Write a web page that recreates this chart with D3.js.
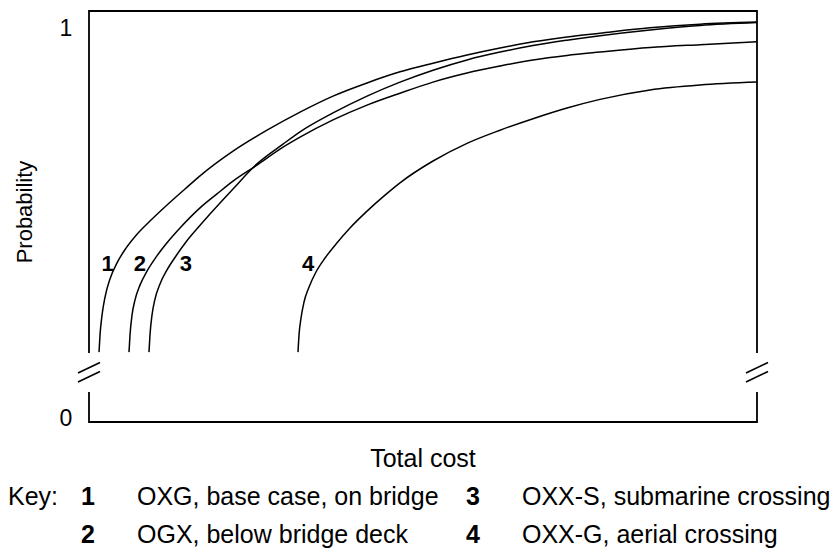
<!DOCTYPE html>
<html>
<head>
<meta charset="utf-8">
<script src="https://cdn.jsdelivr.net/npm/d3@7"></script>
<style>
  body { margin: 0; background: #fff; }
  text { font-family: "Liberation Sans", Arial, Helvetica, sans-serif; fill: #000; }
</style>
</head>
<body>
<svg id="chart" width="835" height="553"></svg>
<script>
// cumulative probability vs total cost (cost in 0..100 units)
var curve1 = [[1.5,.170],[1.65,.212],[1.95,.260],[2.4,.304],[3.14,.348],[4.19,.387],[5.54,.423],
    [7.19,.457],[9.13,.489],[11.68,.528],[14.37,.567],[16.62,.599],[21.56,.659],[26.65,.710],
    [31.59,.754],[36.53,.793],[41.62,.825],[46.56,.852],[51.5,.873],[56.59,.893],[61.53,.910],
    [66.47,.925],[71.56,.937],[76.5,.946],[83.98,.959],[91.47,.968],[100,.973]];
var curve2 = [[5.99,.170],[6.14,.212],[6.44,.260],[6.89,.297],[7.63,.333],[8.68,.367],[10.03,.401],
    [11.68,.436],[13.62,.472],[16.62,.521],[19.16,.555],[21.56,.586],[25.15,.625],[28.59,.664],
    [31.59,.693],[36.53,.735],[41.62,.771],[46.56,.800],[51.5,.827],[56.59,.849],[61.53,.866],
    [66.47,.881],[71.56,.892],[76.5,.900],[83.98,.911],[91.47,.918],[100,.925]];
var curve3 = [[8.98,.170],[9.13,.212],[9.43,.260],[9.88,.299],[10.63,.336],[11.68,.370],[13.02,.404],
    [14.52,.438],[16.17,.470],[18.11,.506],[21.56,.567],[25.15,.628],[29.04,.676],[31.59,.706],
    [36.53,.752],[41.62,.793],[46.56,.827],[51.5,.856],[56.59,.881],[61.53,.900],[66.47,.916],
    [71.56,.929],[76.5,.940],[83.98,.954],[91.47,.965],[100,.972]];
var curve4 = [[31.29,.170],[31.44,.212],[31.74,.253],[32.19,.292],[32.93,.328],[33.98,.365],
    [35.33,.399],[36.98,.433],[39.07,.472],[41.62,.513],[44.31,.552],[46.56,.582],[51.5,.635],
    [56.59,.678],[61.53,.710],[66.47,.738],[71.56,.764],[76.5,.785],[83.98,.808],[91.47,.820],[100,.827]];

var curveIds = ["1", "2", "3", "4"];
var labelCost = [2.8, 7.6, 14.5, 32.8];
var labelProb = 0.387;
var keyNames = ["OXG, base case, on bridge", "OGX, below bridge deck",
                "OXX-S, submarine crossing", "OXX-G, aerial crossing"];
var yTicks = [0, 1];
var axisBreak = [0.073, 0.168];   // probability band cut out of the vertical axis

window.addEventListener( "load", makeChart );
function makeChart() {
    var svg = d3.select( "#chart" );
    var scX = d3.scaleLinear().domain( [0, 100] ).range( [89, 757] );
    var scY = d3.scaleLinear().domain( [0, 1] ).range( [422, 11] );
    var frame = svg.append( "g" ).attr( "stroke", "#000" ).attr( "stroke-width", 1.8 )
        .attr( "fill", "none" );

    // frame with broken sides
    var [x0, x1] = scX.range(), [y0, y1] = scY.range();
    var bLo = scY( axisBreak[0] ), bHi = scY( axisBreak[1] );
    frame.append( "path" ).attr( "d", "M" + x0 + "," + bHi + "V" + y1 + "H" + x1 + "V" + bHi );
    frame.append( "path" ).attr( "d", "M" + x0 + "," + bLo + "V" + y0 + "H" + x1 + "V" + bLo );

    var bMid = (bLo + bHi) / 2;
    [x0, x1].forEach( function( x ) {
        [-4.5, 4.5].forEach( function( o ) {
            frame.append( "line" ).attr( "stroke-width", 1.6 )
                .attr( "x1", x - 11 ).attr( "y1", bMid + o + 5 )
                .attr( "x2", x + 11 ).attr( "y2", bMid + o - 5.5 );
        } );
    } );

    // tick labels 0 and 1
    svg.selectAll( "text.tick" ).data( yTicks ).enter().append( "text" )
        .attr( "class", "tick" )
        .attr( "x", x0 - 23 ).attr( "y", d => d ? scY( d ) + 25 : scY( d ) + 4 )
        .attr( "text-anchor", "middle" ).attr( "font-size", 23 )
        .text( d => d );

    // curves
    var line = d3.line().x( d => scX( d[0] ) ).y( d => scY( d[1] ) )
        .curve( d3.curveMonotoneX );
    svg.append( "g" ).selectAll( "path" ).data( [curve1, curve2, curve3, curve4] ).enter()
        .append( "path" ).attr( "d", line )
        .attr( "fill", "none" ).attr( "stroke", "#000" ).attr( "stroke-width", 1.5 );

    svg.append( "g" ).selectAll( "text" ).data( curveIds ).enter().append( "text" )
        .attr( "x", (d, i) => scX( labelCost[i] ) ).attr( "y", scY( labelProb ) + 8 )
        .attr( "text-anchor", "middle" ).attr( "font-size", 22 ).attr( "font-weight", "bold" )
        .text( d => d );

    // axis titles
    svg.append( "text" ).attr( "transform", "translate(32,212) rotate(-90)" )
        .attr( "text-anchor", "middle" ).attr( "font-size", 22 ).text( "Probability" );
    svg.append( "text" ).attr( "x", 423 ).attr( "y", 467 )
        .attr( "text-anchor", "middle" ).attr( "font-size", 25 ).text( "Total cost" );

    // key
    var key = svg.append( "g" ).attr( "font-size", 25 );
    key.append( "text" ).attr( "x", 8 ).attr( "y", 505 ).text( "Key:" );
    var rows = key.selectAll( "g" ).data( curveIds ).enter().append( "g" )
        .attr( "transform", (d, i) => "translate(" + (i < 2 ? 0 : 385) + "," + (i % 2 ? 543 : 505) + ")" );
    rows.append( "text" ).attr( "x", 88 ).attr( "text-anchor", "middle" )
        .attr( "font-weight", "bold" ).text( d => d );
    rows.append( "text" ).attr( "x", 137 ).text( (d, i) => keyNames[i] );
}
</script>
</body>
</html>
